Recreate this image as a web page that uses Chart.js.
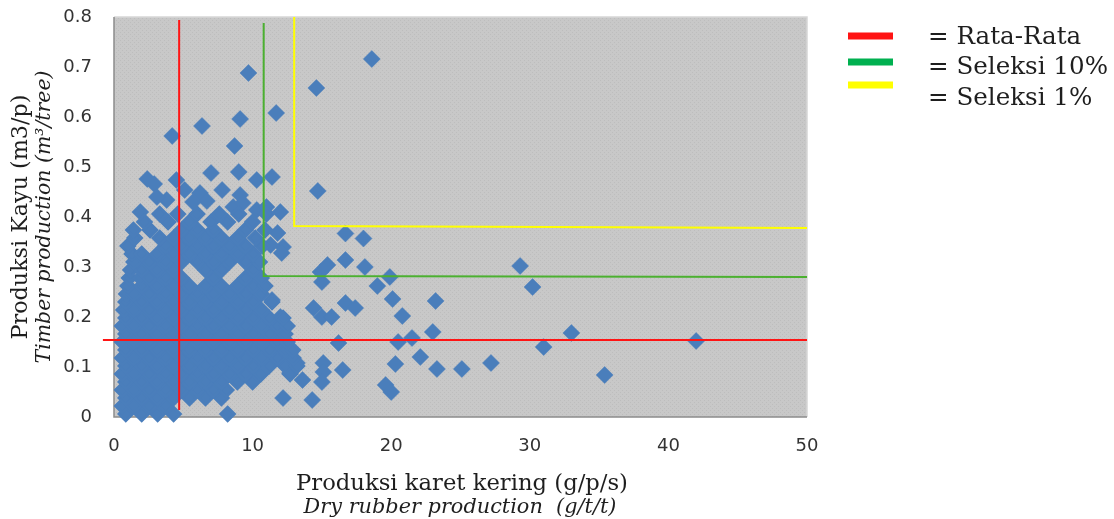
<!DOCTYPE html>
<html><head><meta charset="utf-8">
<script src="https://cdn.jsdelivr.net/npm/chart.js@4.4.1/dist/chart.umd.min.js"></script>
<style>html,body{margin:0;padding:0;background:#fff;}#wrap{width:1114px;height:519px;}</style>
</head><body><div id="wrap"><canvas id="c" width="1114" height="519"></canvas></div>
<script>
// ---------------- data ----------------
const xTickValues = [0, 10, 20, 30, 40, 50];
const yTickValues = [0, 0.1, 0.2, 0.3, 0.4, 0.5, 0.6, 0.7, 0.8];

// dense cluster, row by row (y value, then x values in that row)
const clusterRowY = [0.006,0.022,0.038,0.054,0.070,0.086,0.102,0.118,0.134,0.150,0.166,0.182,0.198,
                     0.214,0.230,0.246,0.262,0.278,0.294,0.310,0.326,0.342,0.358,0.374,0.390,0.406];
const clusterRowX = [
  [0.85,2.0,3.15,4.3,8.2],
  [0.6,1.43,2.58,3.73],
  [0.85,2.0,3.15,4.3,5.45,6.6,7.75],
  [0.6,1.43,2.58,3.73,4.88,6.03,7.18,8.1],
  [0.85,2.0,3.15,4.3,5.45,6.6,7.75,8.9,10.0],
  [0.6,1.43,2.58,3.73,4.88,6.03,7.18,8.33,9.48,10.6,12.7],
  [0.85,2.0,3.15,4.3,5.45,6.6,7.75,8.9,10.05,11.2,12.35,13.2],
  [0.6,1.43,2.58,3.73,4.88,6.03,7.18,8.33,9.48,10.63,11.78,12.93],
  [0.85,2.0,3.15,4.3,5.45,6.6,7.75,8.9,10.05,11.2,12.35,12.9],
  [0.6,1.43,2.58,3.73,4.88,6.03,7.18,8.33,9.48,10.63,11.78,12.5],
  [0.85,2.0,3.15,4.3,5.45,6.6,7.75,8.9,10.05,11.2,12.35],
  [0.6,1.43,2.58,3.73,4.88,6.03,7.18,8.33,9.48,10.63,11.78,12.5],
  [0.85,2.0,3.15,4.3,5.45,6.6,7.75,8.9,10.05,11.2,12.2],
  [0.7,1.43,2.58,3.73,4.88,6.03,7.18,8.33,9.48,10.63],
  [0.85,2.0,3.15,4.3,5.45,6.6,7.75,8.9,10.05,11.4],
  [0.9,1.43,2.58,3.73,4.88,6.03,7.18,8.33,9.48,10.63],
  [1.0,2.0,3.15,4.3,5.45,6.6,7.75,8.9,10.05,10.9],
  [1.1,1.9,2.58,3.73,4.88,7.18,9.48,10.63],
  [1.2,2.0,3.15,4.3,6.6,7.75,10.05],
  [1.43,2.58,3.73,4.88,6.03,7.18,8.33,9.48,10.5],
  [1.3,2.0,3.15,4.3,5.45,6.6,7.75,8.9,10.05],
  [1.0,3.73,4.88,6.03,7.18,8.33,9.48,10.7],
  [1.5,3.3,4.3,5.45,6.6,7.75,8.9,10.2],
  [1.4,2.6,4.88,6.03,7.18,9.48,10.9],
  [2.2,3.9,5.45,7.0,8.2,10.0],
  [3.3,4.6,6.0,7.6,9.0,11.0]
];

// sparse points above the cluster
const upperX = [2.4,2.9,4.5,7.0,9.0,10.3,11.4,7.8,5.1,9.1,3.8,3.1,6.2,6.7,10.3,12.0,8.6,9.3,11.0,5.7,1.9,11.8,12.2,12.1,11.3,
                18.6,9.7,14.6,11.7,9.1,6.35,4.2,8.7,14.7];
const upperY = [0.476,0.466,0.474,0.488,0.49,0.474,0.48,0.454,0.454,0.444,0.434,0.44,0.448,0.432,0.414,0.41,0.42,0.428,0.42,0.43,0.41,0.368,0.34,0.328,0.344,
                0.716,0.688,0.658,0.608,0.596,0.582,0.562,0.542,0.452];

// points to the right of the cluster
const rightX = [16.7,18.0,16.7,15.4,18.1,14.9,15.0,19.9,19.0,20.1,23.2,11.4,14.4,15.0,15.7,16.7,17.4,20.8,23.0,20.5,21.5,16.2,
                22.1,20.3,23.3,25.1,19.6,20.0,15.1,15.1,16.5,15.0,12.2,14.3,12.0,12.1,12.7,13.2,12.7,13.6,10.0,
                29.3,30.2,33.0,31.0,42.0,27.2,35.4];
const rightY = [0.367,0.357,0.314,0.304,0.30,0.29,0.27,0.28,0.262,0.236,0.232,0.234,0.218,0.2,0.2,0.228,0.218,0.202,0.17,0.15,0.158,0.148,
                0.12,0.106,0.096,0.096,0.064,0.05,0.108,0.09,0.094,0.07,0.038,0.034,0.2,0.178,0.128,0.108,0.088,0.074,0.074,
                0.302,0.26,0.168,0.14,0.152,0.108,0.084];

// reference lines (Rata-Rata, Seleksi 10%, Seleksi 1%)
const meanLineH = [[-0.8,0.154],[50,0.154]];
const meanLineV = [[4.7,0.014],[4.7,0.794]];
const sel10Line = [[10.8,0.788],[10.8,0.282],[50,0.280]];
const sel1Line  = [[13.0,0.800],[13.0,0.382],[50,0.378]];

const legendLabels = ['= Rata-Rata', '= Seleksi 10%', '= Seleksi 1%'];
const yTitle = ['Produksi Kayu (m3/p)', 'Timber production (m\u00b3/tree)'];
const xTitle = ['Produksi karet kering (g/p/s)', 'Dry rubber production  (g/t/t)'];

// ---------------- build ----------------
const toPts = a => a.map(([x, y]) => ({x, y}));
const clusterPts = [];
clusterRowY.forEach((y, i) => clusterRowX[i].forEach(x => clusterPts.push({x, y})));
const otherPts = [];
upperX.forEach((x, i) => otherPts.push({x, y: upperY[i]}));
rightX.forEach((x, i) => otherPts.push({x, y: rightY[i]}));

const RED = '#ff1414', GREEN = '#4bb030', YELLOW = '#ffff00', BLUE = '#4a7ebb';
const LEG_GREEN = '#00b050';

function lineDs(data, color) {
  return {type: 'scatter', data: toPts(data), showLine: true, borderColor: color, borderWidth: 2,
          pointRadius: 0, fill: false, clip: false, order: 0, tension: 0};
}

const pc = document.createElement('canvas'); pc.width = 4; pc.height = 4;
const pcx = pc.getContext('2d');
pcx.fillStyle = '#c8c8c8'; pcx.fillRect(0, 0, 4, 4);
pcx.fillStyle = '#bdbdbd'; pcx.fillRect(0, 0, 1, 1); pcx.fillRect(2, 2, 1, 1);

const bgPlugin = {
  id: 'bg',
  beforeDatasetsDraw(chart) {
    const {ctx, chartArea: a} = chart;
    ctx.save();
    ctx.fillStyle = ctx.createPattern(pc, 'repeat');
    ctx.fillRect(a.left, a.top, a.right - a.left, a.bottom - a.top);
    ctx.strokeStyle = '#d6d6d6'; ctx.lineWidth = 1.5;
    ctx.beginPath(); ctx.moveTo(a.left, a.top); ctx.lineTo(a.right, a.top); ctx.lineTo(a.right, a.bottom); ctx.stroke();
    ctx.strokeStyle = '#8c8c8c';
    ctx.beginPath(); ctx.moveTo(a.left, a.top); ctx.lineTo(a.left, a.bottom); ctx.lineTo(a.right, a.bottom); ctx.stroke();
    ctx.restore();
  }
};

function fitFont(ctx, text, style, target) {
  ctx.font = style + ' 20px "DejaVu Serif"';
  const w = ctx.measureText(text).width;
  return style + ' ' + (20 * target / w).toFixed(2) + 'px "DejaVu Serif"';
}

const textPlugin = {
  id: 'texts',
  afterDraw(chart) {
    const {ctx, chartArea: a} = chart;
    ctx.save();
    ctx.fillStyle = '#1e1e1e';
    ctx.textAlign = 'center'; ctx.textBaseline = 'middle';
    const cy = (a.top + a.bottom) / 2;
    ctx.save(); ctx.translate(21, cy); ctx.rotate(-Math.PI / 2);
    ctx.font = fitFont(ctx, yTitle[0], 'normal', 245);
    ctx.fillText(yTitle[0], 0, 0); ctx.restore();
    ctx.save(); ctx.translate(45, cy); ctx.rotate(-Math.PI / 2);
    ctx.font = fitFont(ctx, yTitle[1], 'italic', 293);
    ctx.fillText(yTitle[1], 0, 0); ctx.restore();
    ctx.font = fitFont(ctx, xTitle[0], 'normal', 332);
    ctx.fillText(xTitle[0], 462, 484);
    ctx.font = fitFont(ctx, xTitle[1], 'italic', 313);
    ctx.fillText(xTitle[1], 460, 508);
    const sw = [RED, LEG_GREEN, YELLOW];
    const swY = [36, 62, 85];
    const txY = [38, 68, 99];
    ctx.textAlign = 'left';
    ctx.font = fitFont(ctx, legendLabels[1], 'normal', 180);
    legendLabels.forEach((t, i) => {
      ctx.fillStyle = sw[i];
      ctx.fillRect(848, swY[i] - 3.5, 45, 7);
      ctx.fillStyle = '#1e1e1e';
      ctx.fillText(t, 928, txY[i]);
    });
    ctx.restore();
  }
};

const chart = new Chart(document.getElementById('c'), {
  type: 'scatter',
  data: {
    datasets: [
      lineDs(meanLineH, RED), lineDs(meanLineV, RED),
      lineDs(sel10Line, GREEN), lineDs(sel1Line, YELLOW),
      {type: 'scatter', data: clusterPts, pointStyle: 'rectRot', pointRadius: 7,
       backgroundColor: BLUE, borderColor: BLUE, borderWidth: 2.5, clip: false, order: 1},
      {type: 'scatter', data: otherPts, pointStyle: 'rectRot', pointRadius: 8.5,
       backgroundColor: BLUE, borderColor: BLUE, borderWidth: 0.5, clip: false, order: 1}
    ]
  },
  options: {
    responsive: false, animation: false, devicePixelRatio: 1,
    layout: {padding: {left: 0, right: 307, top: 17, bottom: 0}},
    plugins: {legend: {display: false}, tooltip: {enabled: false}},
    scales: {
      x: {type: 'linear', min: 0, max: 50,
          afterBuildTicks: s => { s.ticks = xTickValues.map(v => ({value: v})); },
          ticks: {font: {family: 'DejaVu Sans', size: 18}, color: '#333', padding: 19, maxRotation: 0},
          grid: {display: false, drawTicks: false}, border: {display: false},
          afterFit: s => { s.height = 102; s.paddingLeft = 0; s.paddingRight = 0; }},
      y: {type: 'linear', min: 0, max: 0.8,
          afterBuildTicks: s => { s.ticks = yTickValues.map(v => ({value: v})); },
          ticks: {font: {family: 'DejaVu Sans', size: 18}, color: '#333', padding: 22,
                  callback: v => String(Math.round(v * 10) / 10)},
          grid: {display: false, drawTicks: false}, border: {display: false},
          afterFit: s => { s.width = 114; s.paddingTop = 0; s.paddingBottom = 0; }}
    }
  },
  plugins: [bgPlugin, textPlugin]
});
</script></body></html>
